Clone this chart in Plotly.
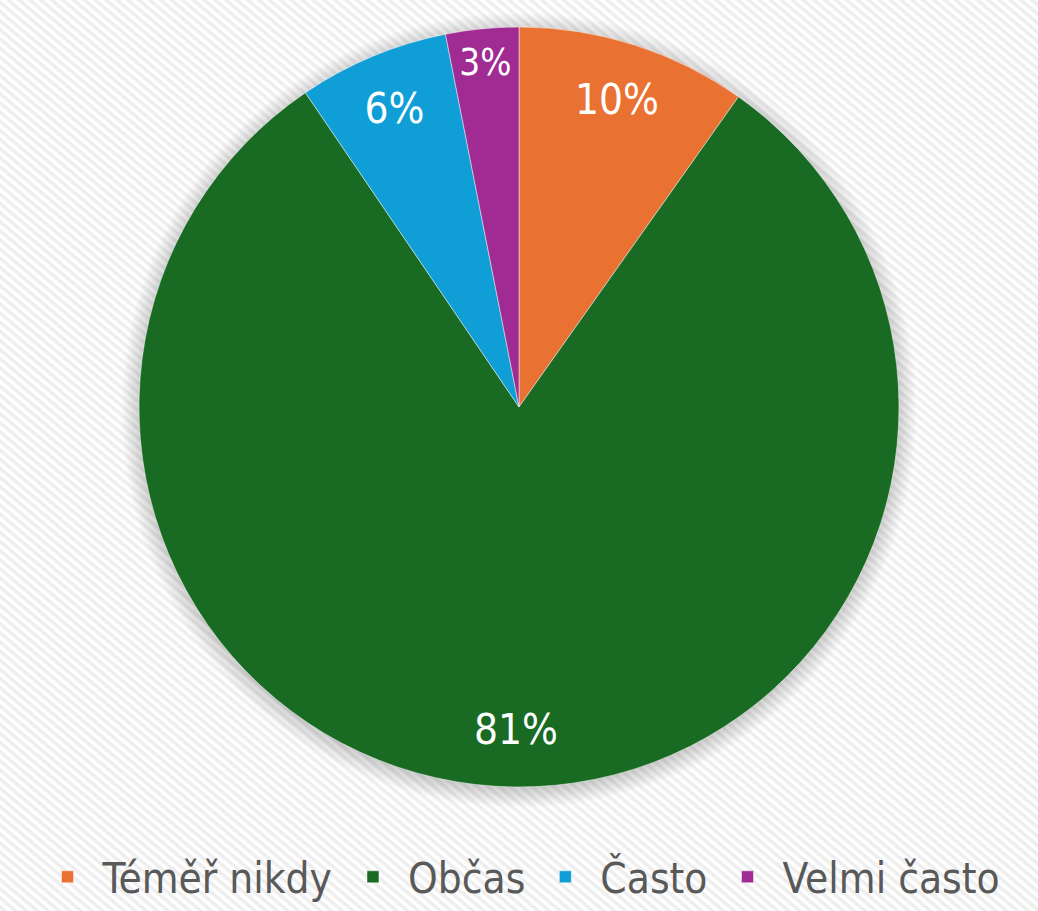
import base64
import plotly.graph_objects as go

categories = ["Téměř nikdy", "Občas", "Často", "Velmi často"]
values = [9.8, 80.7, 6.4, 3.1]
colors = ["#E97132", "#196B24", "#0F9ED5", "#A02B93"]

W, H = 1038, 911
CX, CY, R = 519, 407, 380
FONT = "DejaVu Sans Condensed, Liberation Sans, sans-serif"

svg = f'''<svg xmlns="http://www.w3.org/2000/svg" width="{W}" height="{H}">
<defs>
<pattern id="p" width="7" height="7" patternUnits="userSpaceOnUse" patternTransform="rotate(40)">
<rect width="7" height="7" fill="#ffffff"/>
<rect width="7" height="3.5" fill="#eeeeee"/>
</pattern>
<radialGradient id="g" cx="{CX}" cy="{CY+3}" r="{R+18}" gradientUnits="userSpaceOnUse">
<stop offset="0.94" stop-color="#000" stop-opacity="0.22"/>
<stop offset="1" stop-color="#000" stop-opacity="0"/>
</radialGradient>
</defs>
<rect width="{W}" height="{H}" fill="url(#p)"/>
<circle cx="{CX}" cy="{CY+3}" r="{R+18}" fill="url(#g)"/>
</svg>'''
uri = "data:image/svg+xml;base64," + base64.b64encode(svg.encode()).decode()

dom = dict(x=[(CX - R) / W, (CX + R) / W], y=[1 - (CY + R) / H, 1 - (CY - R) / H])

fig = go.Figure()
fig.add_trace(go.Pie(
    labels=categories, values=values, sort=False, direction="clockwise", rotation=0,
    marker=dict(colors=colors, line=dict(color="rgba(255,255,255,0.6)", width=0.8)),
    textinfo="none", domain=dom, hoverinfo="label+percent",
))
# transparent ring used only to place the percentage labels near the rim
fig.add_trace(go.Pie(
    labels=categories, values=values, sort=False, direction="clockwise", rotation=0,
    hole=0.7, showlegend=False, hoverinfo="skip",
    marker=dict(colors=["rgba(0,0,0,0)"] * 4, line=dict(width=0)),
    texttemplate="%{percent:.0%}", textposition="inside", insidetextorientation="horizontal",
    textfont=dict(family=FONT, size=42, color="white"),
    domain=dom,
))
fig.update_layout(
    width=W, height=H, margin=dict(l=0, r=0, t=0, b=0),
    paper_bgcolor="white",
    images=[dict(source=uri, xref="paper", yref="paper", x=0, y=1, sizex=1, sizey=1,
                 xanchor="left", yanchor="top", sizing="stretch", layer="below")],
    legend=dict(orientation="h", x=0.5, xanchor="center", y=0.0, yanchor="bottom",
                itemwidth=60,
                font=dict(family=FONT, size=42, color="#595959"),
                bgcolor="rgba(0,0,0,0)"),
)
fig.write_html("out.html")
